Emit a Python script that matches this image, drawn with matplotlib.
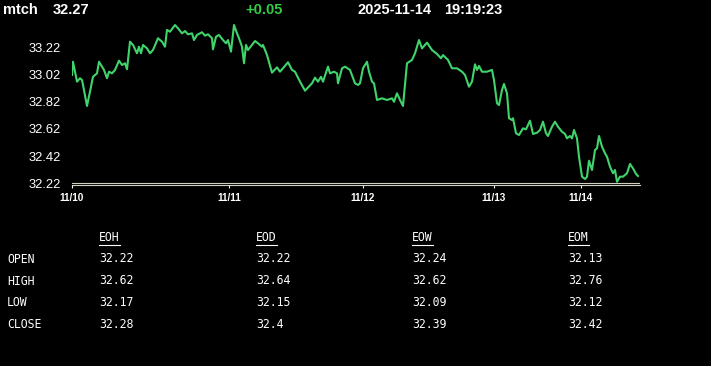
import matplotlib
matplotlib.use("Agg")
import matplotlib.pyplot as plt
from matplotlib.lines import Line2D

# header
symbol = "mtch"
last_price = "32.27"
change = "+0.05"
stamp_date = "2025-11-14"
stamp_time = "19:19:23"

# price trace (bar index, price)
bar_idx = [0, 1, 5, 8, 10, 11, 15, 18, 21, 25, 27, 30, 32, 35, 37, 40, 43, 47, 50, 53,
           55, 58, 61, 65, 67, 69, 71, 75, 78, 81, 86, 90, 92, 93, 95, 98, 103, 106, 110, 113,
           116, 120, 122, 125, 130, 133, 136, 140, 141, 144, 147, 151, 154, 156, 159, 162, 165, 167, 170, 172,
           174, 176, 180, 183, 186, 190, 191, 195, 200, 205, 208, 216, 220, 223, 228, 233, 240, 243, 246, 249,
           251, 256, 258, 262, 265, 266, 270, 273, 278, 283, 286, 288, 291, 295, 297, 300, 302, 305, 310, 315,
           320, 322, 325, 328, 331, 335, 340, 343, 347, 350, 355, 360, 365, 369, 371, 376, 380, 385, 390, 393,
           397, 400, 403, 405, 407, 410, 415, 420, 422, 425, 427, 430, 432, 435, 437, 440, 441, 444, 447, 451,
           454, 458, 461, 465, 468, 471, 474, 476, 480, 483, 486, 490, 493, 495, 498, 500, 502, 505, 507, 510,
           513, 515, 517, 520, 523, 525, 527, 530, 533, 535, 538, 541, 543, 545, 548, 551, 555, 558, 561, 564,
           566]
prices = [33.015, 33.112, 32.966, 32.991, 32.978, 32.942, 32.788, 32.893, 33.002, 33.027, 33.112, 33.076, 33.052, 32.991, 33.039, 33.027, 33.052, 33.120, 33.088, 33.101,
          33.057, 33.259, 33.235, 33.174, 33.222, 33.174, 33.235, 33.210, 33.174, 33.198, 33.284, 33.259, 33.235, 33.222, 33.345, 33.332, 33.381, 33.357, 33.320, 33.337,
          33.313, 33.320, 33.271, 33.308, 33.328, 33.303, 33.313, 33.284, 33.203, 33.295, 33.308, 33.271, 33.247, 33.271, 33.186, 33.381, 33.320, 33.284, 33.222, 33.101,
          33.235, 33.198, 33.235, 33.264, 33.247, 33.222, 33.235, 33.161, 33.032, 33.071, 33.039, 33.108, 33.052, 33.039, 32.966, 32.900, 32.954, 32.995, 32.966, 33.002,
          32.966, 33.076, 33.027, 33.039, 33.027, 32.954, 33.064, 33.076, 33.052, 32.954, 32.942, 32.954, 33.064, 33.112, 33.039, 32.966, 32.954, 32.832, 32.844, 32.832,
          32.844, 32.819, 32.881, 32.832, 32.788, 33.101, 33.125, 33.174, 33.271, 33.210, 33.252, 33.198, 33.169, 33.137, 33.161, 33.125, 33.064, 33.064, 33.039, 33.015,
          32.929, 32.966, 33.093, 33.052, 33.081, 33.039, 33.039, 33.052, 32.978, 32.808, 32.795, 32.905, 32.949, 32.881, 32.698, 32.685, 32.698, 32.588, 32.575, 32.624,
          32.617, 32.680, 32.583, 32.592, 32.612, 32.673, 32.588, 32.568, 32.636, 32.673, 32.636, 32.599, 32.583, 32.551, 32.568, 32.551, 32.612, 32.551, 32.416, 32.270,
          32.253, 32.270, 32.387, 32.319, 32.465, 32.478, 32.568, 32.490, 32.441, 32.416, 32.343, 32.295, 32.319, 32.233, 32.270, 32.270, 32.295, 32.363, 32.331, 32.290,
          32.275]

day_ticks = [0, 157, 291, 422, 509]
day_labels = ["11/10", "11/11", "11/12", "11/13", "11/14"]
price_ticks = [32.22, 32.42, 32.62, 32.82, 33.02, 33.22]

# summary table
periods = ["EOH", "EOD", "EOW", "EOM"]
fields = ["OPEN", "HIGH", "LOW", "CLOSE"]
eoh = ["32.22", "32.62", "32.17", "32.28"]
eod = ["32.22", "32.64", "32.15", "32.4"]
eow = ["32.24", "32.62", "32.09", "32.39"]
eom = ["32.13", "32.76", "32.12", "32.42"]

W, H = 711, 366
fig = plt.figure(figsize=(W / 100, H / 100), dpi=100, facecolor="black")

def fx(px):
    return px / W

def fy(py):
    return 1 - py / H

green = "#3fd46c"
sans = ["Liberation Sans", "DejaVu Sans"]
mono = ["DejaVu Sans Mono"]

# header line
fig.text(fx(3), fy(9.5), symbol, color="white", fontsize=10.5, fontweight="bold", family=sans, va="center")
fig.text(fx(53), fy(9.5), last_price, color="white", fontsize=10.5, fontweight="bold", family=sans, va="center")
fig.text(fx(245), fy(9.5), change, color="#33cc44", fontsize=10.5, fontweight="bold", family=sans, va="center")
fig.text(fx(358), fy(9.5), stamp_date, color="white", fontsize=10.5, fontweight="bold", family=sans, va="center")
fig.text(fx(444), fy(9.5), stamp_time, color="white", fontsize=10.5, fontweight="bold", family=sans, va="center")

# chart
ax_left, ax_right, ax_top, ax_bot = 72, 640, 20, 185
ax = fig.add_axes([fx(ax_left), fy(ax_bot), (ax_right - ax_left) / W, (ax_bot - ax_top) / H])
ax.set_facecolor("black")
ppu = 136.5  # pixels per price unit
ax.set_ylim(32.22 - 1.5 / ppu, 32.22 + 163.5 / ppu)
ax.set_xlim(0, 568)

ax.plot(bar_idx, prices, color=green, linewidth=1.5, solid_joinstyle="round")

axis_col = "#d0d0c0"
for s in ["top", "right", "left"]:
    ax.spines[s].set_visible(False)
ax.spines["bottom"].set_color(axis_col)
ax.spines["bottom"].set_linewidth(0.8)
ax.axhline(32.22 + 0.5 / ppu, color=axis_col, linewidth=0.8)

ax.set_xticks(day_ticks)
ax.set_xticklabels(day_labels)
ax.tick_params(axis="x", colors="white", length=2.5, width=0.8, pad=3.5)
for lbl in ax.get_xticklabels():
    lbl.set_fontsize(7.2)
    lbl.set_fontweight("bold")
    lbl.set_family(sans)

ax.set_yticks(price_ticks)
ax.set_yticklabels([f"{v:.2f}" for v in price_ticks])
ax.tick_params(axis="y", colors="white", length=0, pad=8)
for lbl in ax.get_yticklabels():
    lbl.set_fontsize(9.3)
    lbl.set_family(sans)

# table
col_x = [99, 256, 412, 568]
row_y = [258.5, 280.5, 302, 324]
fs = 8.3
for f, y in zip(fields, row_y):
    fig.text(fx(7), fy(y + 1), f, color="white", fontsize=fs, family=mono, va="center")

headers = []
for p, x, col in zip(periods, col_x, [eoh, eod, eow, eom]):
    headers.append(fig.text(fx(x), fy(238), p, color="white", fontsize=fs, family=mono, va="center"))
    for v, y in zip(col, row_y):
        fig.text(fx(x), fy(y), v, color="white", fontsize=fs, family=mono, va="center")

# underline the column headers
fig.canvas.draw()
r = fig.canvas.get_renderer()
for t in headers:
    bb = t.get_window_extent(r)
    yl = bb.y0 - 0.5
    fig.add_artist(Line2D([bb.x0 / W, bb.x1 / W], [yl / H, yl / H], color="white", linewidth=0.8))

fig.savefig("out.png", dpi=100, facecolor="black")
